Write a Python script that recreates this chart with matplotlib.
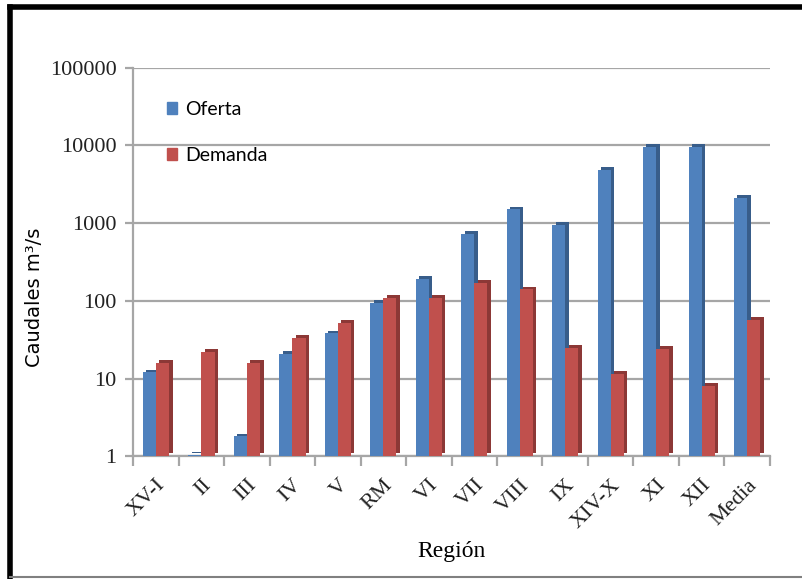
"""Oferta y demanda de caudales por region, barras en escala log"""
import numpy as np
import matplotlib
matplotlib.use("Agg")
import matplotlib.pyplot as plt
import matplotlib.patheffects as pe
from matplotlib.lines import Line2D
from matplotlib.patches import Patch

regiones = ["XV-I", "II", "III", "IV", "V", "RM", "VI", "VII", "VIII",
            "IX", "XIV-X", "XI", "XII", "Media"]
oferta = [12, 1.05, 1.8, 21, 38, 95, 190, 720, 1500, 950, 4800, 9500, 9500, 2100]
demanda = [16, 22, 16, 33, 52, 110, 108, 170, 140, 25, 11.5, 24, 8, 57]
y_ticks = [1, 10, 100, 1000, 10000, 100000]

AZUL = "#4f81bd"
AZUL_LADO = "#385d8a"
ROJO = "#c0504d"
ROJO_LADO = "#8c3836"


def plot():
    fig = plt.figure(figsize=(8.02, 5.79), dpi=100)
    ax = fig.add_axes([0.166, 0.212, 0.794, 0.671])
    x = np.arange(len(regiones))
    w = 0.29

    # sombra a la derecha/arriba para imitar el 3D de Excel
    fx_az = [pe.SimplePatchShadow(offset=(2.5, 2), shadow_rgbFace=AZUL_LADO, alpha=1),
             pe.Normal()]
    fx_ro = [pe.SimplePatchShadow(offset=(2.5, 2), shadow_rgbFace=ROJO_LADO, alpha=1),
             pe.Normal()]
    ofe = np.array(oferta)
    dem = np.array(demanda)
    bars1 = ax.bar(x - w / 2, ofe - 1, bottom=1, width=w, color=AZUL, zorder=3)
    bars2 = ax.bar(x + w / 2, dem - 1, bottom=1, width=w, color=ROJO, zorder=4)
    for b in bars1:
        b.set_path_effects(fx_az)
    for b in bars2:
        b.set_path_effects(fx_ro)

    ax.set_yscale("log")
    ax.set_ylim(1, 100000)
    ax.set_xlim(-0.5, len(regiones) - 0.5)
    ax.set_yticks(y_ticks)
    ax.set_yticklabels([str(v) for v in y_ticks], family="Liberation Serif",
                       fontsize=16, color="#222222")
    ax.yaxis.set_minor_locator(plt.NullLocator())
    ax.grid(axis="y", color="#a6a6a6", lw=1.6, zorder=0)

    ax.set_xticks(x)
    ax.set_xticklabels(regiones, rotation=45, ha="right", rotation_mode="anchor",
                       family="Liberation Serif", fontsize=16, color="#222222")
    ax.set_xticks(np.arange(len(regiones) + 1) - 0.5, minor=True)
    ax.tick_params(axis="x", which="major", length=0, pad=14)
    ax.tick_params(axis="x", which="minor", length=7, color="#a6a6a6", width=1.6)
    ax.tick_params(axis="y", length=6, color="#a6a6a6", width=1.6, pad=6)

    for s in ["top", "right"]:
        ax.spines[s].set_visible(False)
    for s in ["left", "bottom"]:
        ax.spines[s].set_color("#a6a6a6")
        ax.spines[s].set_linewidth(1.6)

    ax.set_ylabel("Caudales m³/s", family="DejaVu Sans", fontsize=14)
    ax.yaxis.set_label_coords(-0.14, 0.41)
    ax.set_xlabel("Región", family="Liberation Serif", fontsize=17, labelpad=6)

    handles = [Patch(color=AZUL), Patch(color=ROJO)]
    ax.legend(handles, ["Oferta", "Demanda"], loc="upper left",
              bbox_to_anchor=(0.025, 0.96), frameon=False,
              prop={"family": "Lato", "size": 14}, handlelength=0.55,
              handleheight=0.55, handletextpad=0.4, labelspacing=1.5)

    # marco de la imagen
    fig.add_artist(Line2D([0.013, 1], [0.988, 0.988], color="black", lw=4,
                          transform=fig.transFigure))
    fig.add_artist(Line2D([0.013, 0.013], [0, 0.988], color="black", lw=4,
                          transform=fig.transFigure))
    fig.add_artist(Line2D([0.013, 1], [0.003, 0.003], color="#808080", lw=1.5,
                          transform=fig.transFigure))
    fig.savefig("out.png", dpi=100)


plot()
